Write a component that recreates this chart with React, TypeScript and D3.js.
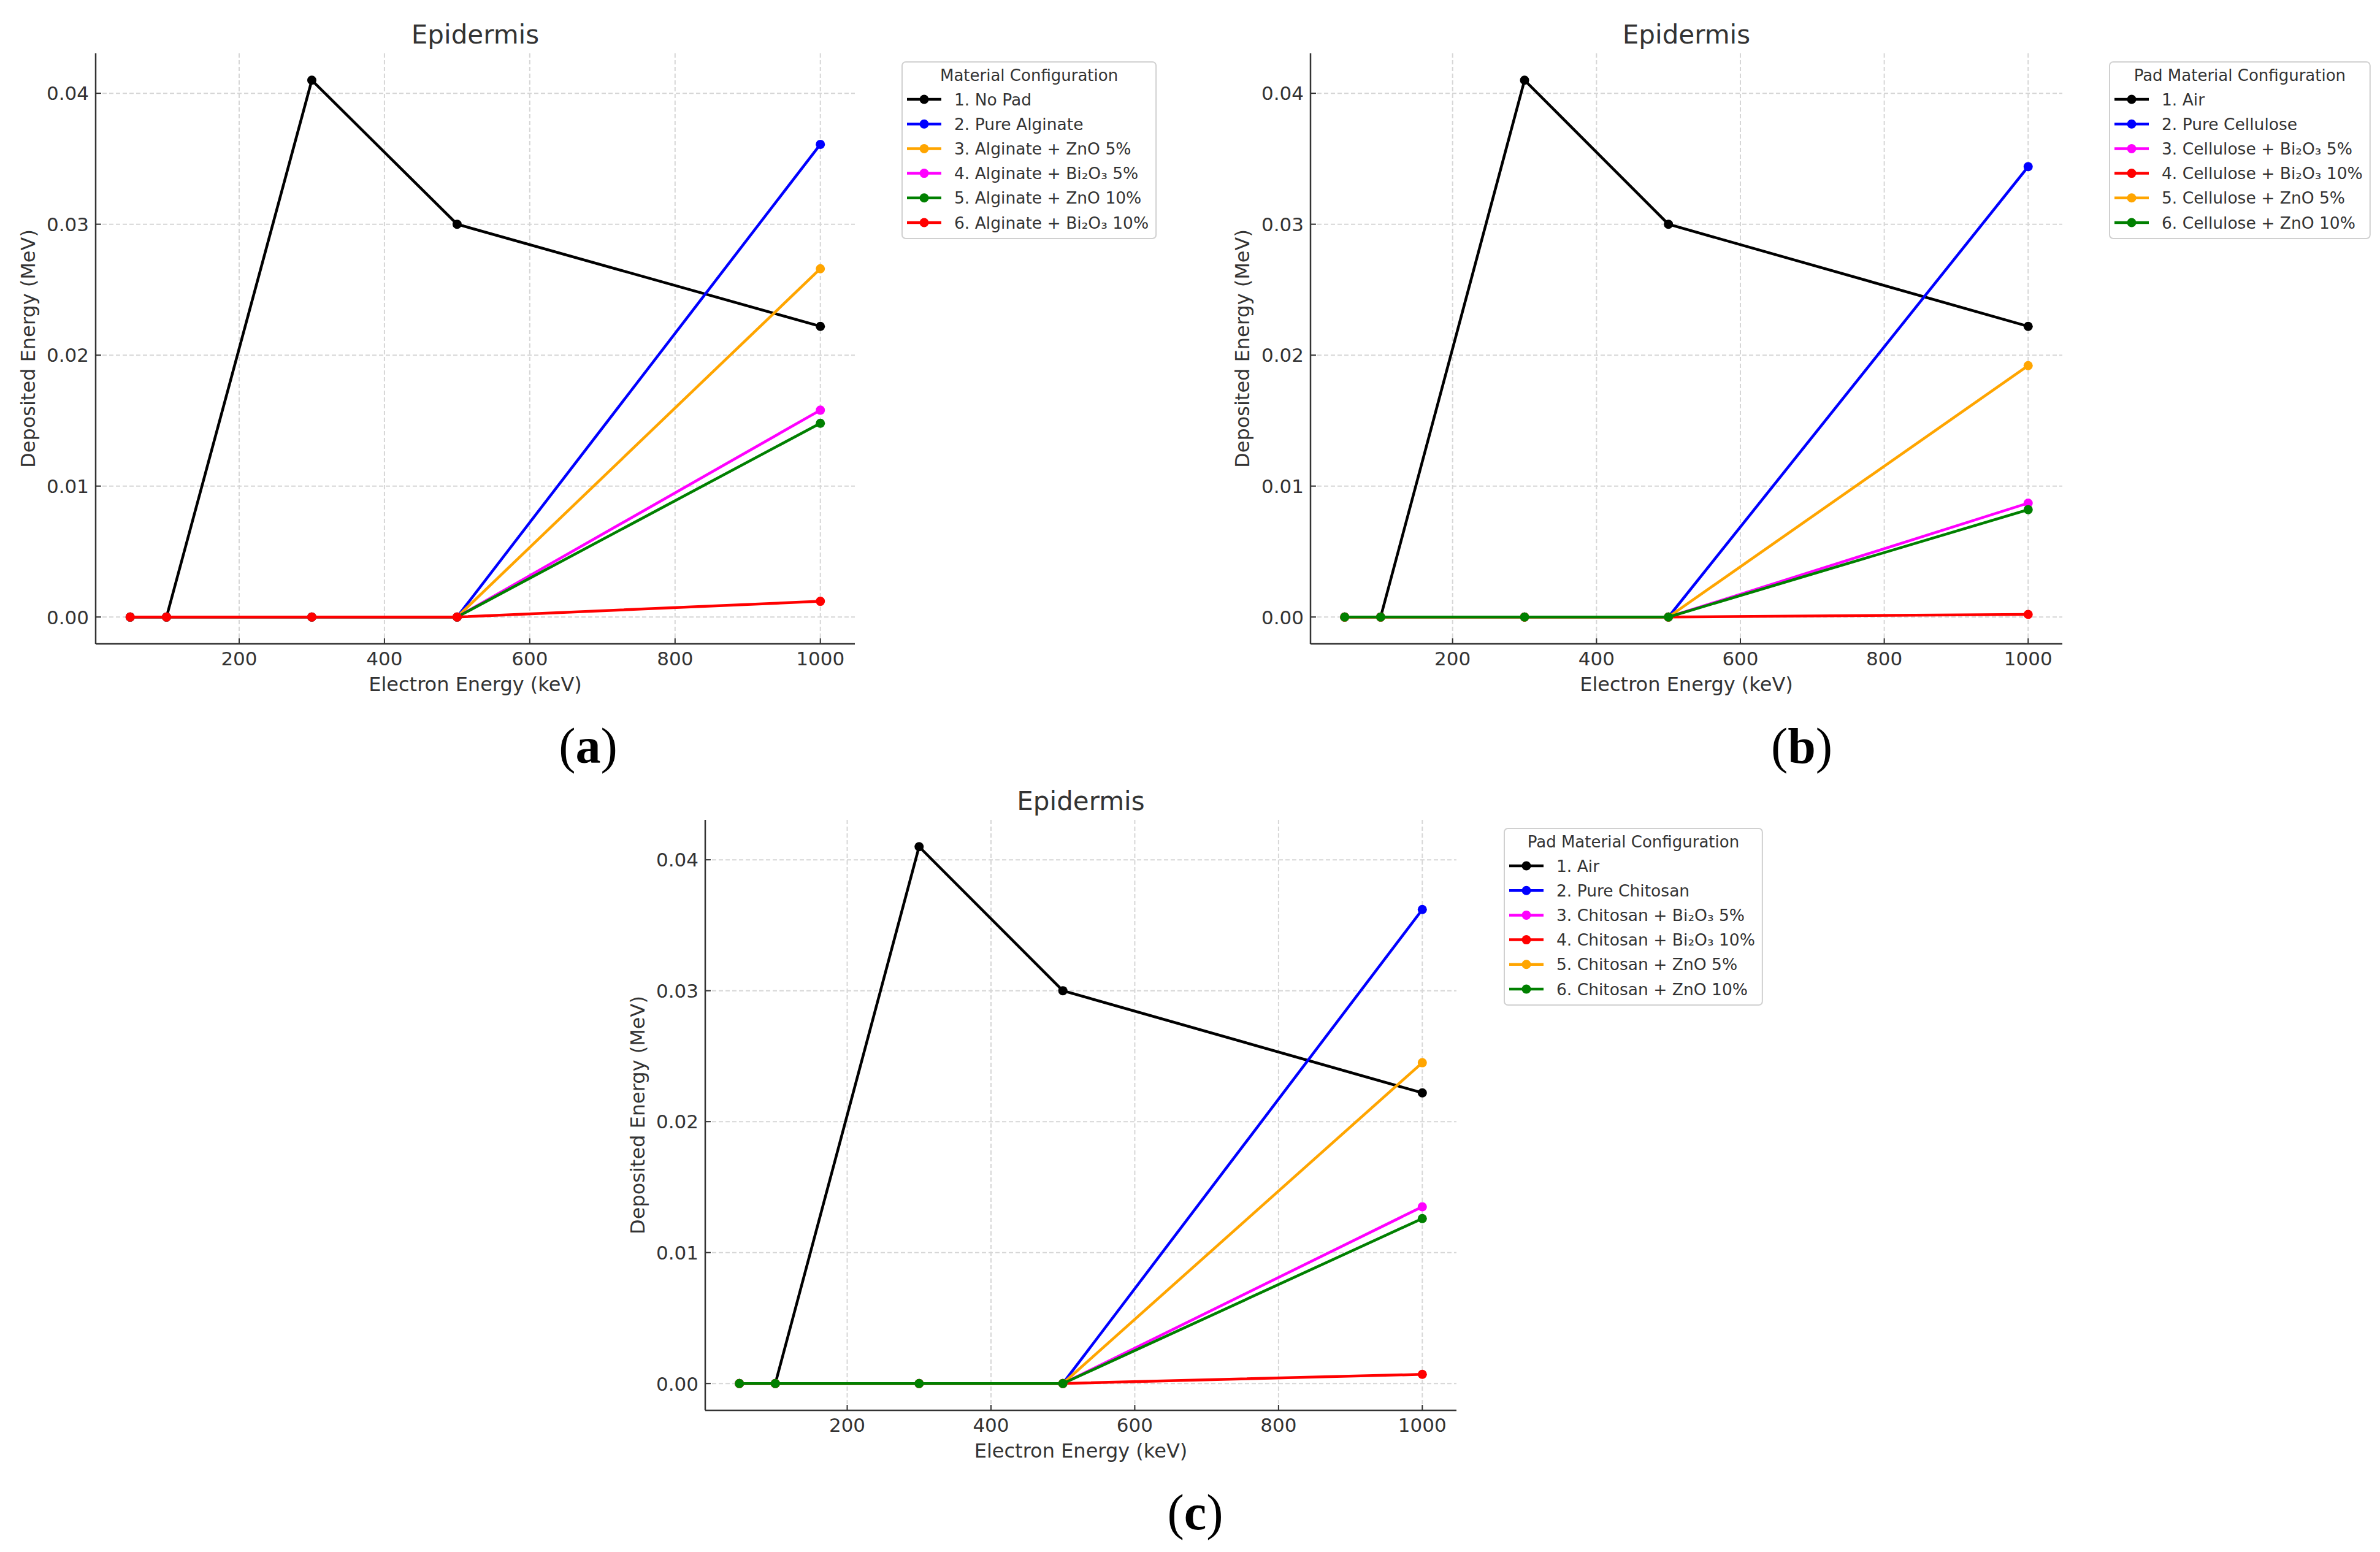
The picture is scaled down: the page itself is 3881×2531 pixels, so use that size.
import React, { useEffect, useRef } from 'react';
import * as d3 from 'd3';

const W = 3881;
const H = 2531;

// ---------- data ----------
const energies = [50, 100, 300, 500, 1000];
const xTicks = [200, 400, 600, 800, 1000];
const yTicks = [0, 0.01, 0.02, 0.03, 0.04];
const chartTitle = 'Epidermis';
const xAxisLabel = 'Electron Energy (keV)';
const yAxisLabel = 'Deposited Energy (MeV)';

// Panel (a): alginate
const alginateLabels = [
  '1. No Pad',
  '2. Pure Alginate',
  '3. Alginate + ZnO 5%',
  '4. Alginate + Bi₂O₃ 5%',
  '5. Alginate + ZnO 10%',
  '6. Alginate + Bi₂O₃ 10%',
];
const alginateColors = ['#000000', '#0000ff', '#ffa500', '#ff00ff', '#008000', '#ff0000'];
const alginateNoPad = [0, 0, 0.041, 0.030, 0.0222];
const alginatePure = [0, 0, 0, 0, 0.0361];
const alginateZnO5 = [0, 0, 0, 0, 0.0266];
const alginateBi5 = [0, 0, 0, 0, 0.0158];
const alginateZnO10 = [0, 0, 0, 0, 0.0148];
const alginateBi10 = [0, 0, 0, 0, 0.0012];

// Panel (b): cellulose
const celluloseLabels = [
  '1. Air',
  '2. Pure Cellulose',
  '3. Cellulose + Bi₂O₃ 5%',
  '4. Cellulose + Bi₂O₃ 10%',
  '5. Cellulose + ZnO 5%',
  '6. Cellulose + ZnO 10%',
];
const celluloseColors = ['#000000', '#0000ff', '#ff00ff', '#ff0000', '#ffa500', '#008000'];
const celluloseAir = [0, 0, 0.041, 0.030, 0.0222];
const cellulosePure = [0, 0, 0, 0, 0.0344];
const celluloseBi5 = [0, 0, 0, 0, 0.0087];
const celluloseBi10 = [0, 0, 0, 0, 0.0002];
const celluloseZnO5 = [0, 0, 0, 0, 0.0192];
const celluloseZnO10 = [0, 0, 0, 0, 0.0082];

// Panel (c): chitosan
const chitosanLabels = [
  '1. Air',
  '2. Pure Chitosan',
  '3. Chitosan + Bi₂O₃ 5%',
  '4. Chitosan + Bi₂O₃ 10%',
  '5. Chitosan + ZnO 5%',
  '6. Chitosan + ZnO 10%',
];
const chitosanColors = ['#000000', '#0000ff', '#ff00ff', '#ff0000', '#ffa500', '#008000'];
const chitosanAir = [0, 0, 0.041, 0.030, 0.0222];
const chitosanPure = [0, 0, 0, 0, 0.0362];
const chitosanBi5 = [0, 0, 0, 0, 0.0135];
const chitosanBi10 = [0, 0, 0, 0, 0.0007];
const chitosanZnO5 = [0, 0, 0, 0, 0.0245];
const chitosanZnO10 = [0, 0, 0, 0, 0.0126];

const panels = [
  {
    tag: 'a', left: 156, right: 1394, dy: 0, legendX: 1471, yLabX: 57, tagX: 959,
    legendTitle: 'Material Configuration',
    labels: alginateLabels, colors: alginateColors,
    series: [alginateNoPad, alginatePure, alginateZnO5, alginateBi5, alginateZnO10, alginateBi10],
  },
  {
    tag: 'b', left: 2137, right: 3363, dy: 0, legendX: 3440, yLabX: 2037, tagX: 2938,
    legendTitle: 'Pad Material Configuration',
    labels: celluloseLabels, colors: celluloseColors,
    series: [celluloseAir, cellulosePure, celluloseBi5, celluloseBi10, celluloseZnO5, celluloseZnO10],
  },
  {
    tag: 'c', left: 1150, right: 2375, dy: 1250, legendX: 2453, yLabX: 1051, tagX: 1949,
    legendTitle: 'Pad Material Configuration',
    labels: chitosanLabels, colors: chitosanColors,
    series: [chitosanAir, chitosanPure, chitosanBi5, chitosanBi10, chitosanZnO5, chitosanZnO10],
  },
];

// ---------- layout ----------
const PT = 87, PB = 1050;
const FONT = '"DejaVu Sans", sans-serif';
const TXT = '#333333';

export default function App() {
  const ref = useRef<SVGSVGElement | null>(null);

  useEffect(() => {
    const svg = d3.select(ref.current);
    svg.selectAll('*').remove();
    svg.append('rect').attr('width', W).attr('height', H).attr('fill', '#ffffff');

    const y = d3.scaleLinear().domain([-0.00205, 0.04305]).range([PB, PT]);

    panels.forEach((p) => {
      const PL = p.left;
      const PR = p.right;
      const x = d3.scaleLinear().domain([2.5, 1047.5]).range([PL, PR]);
      const g = svg.append('g').attr('transform', `translate(0,${p.dy})`);

      // grid
      g.selectAll(null).data(xTicks).enter().append('line')
        .attr('x1', (d) => x(d)).attr('x2', (d) => x(d))
        .attr('y1', PT).attr('y2', PB)
        .attr('stroke', '#d6d6d6').attr('stroke-width', 2).attr('stroke-dasharray', '7,4');
      g.selectAll(null).data(yTicks).enter().append('line')
        .attr('x1', PL).attr('x2', PR)
        .attr('y1', (d) => y(d)).attr('y2', (d) => y(d))
        .attr('stroke', '#d6d6d6').attr('stroke-width', 2).attr('stroke-dasharray', '7,4');

      // series
      const line = d3.line<number>()
        .x((_, i) => x(energies[i]))
        .y((d) => y(d));
      p.series.forEach((vals, si) => {
        const col = p.colors[si];
        g.append('path').datum(vals).attr('d', line)
          .attr('fill', 'none').attr('stroke', col).attr('stroke-width', 4.5)
          .attr('stroke-linejoin', 'round');
        g.selectAll(null).data(vals).enter().append('circle')
          .attr('cx', (_, i) => x(energies[i])).attr('cy', (d) => y(d))
          .attr('r', 7.5).attr('fill', col);
      });

      // spines
      g.append('line').attr('x1', PL).attr('x2', PL).attr('y1', PT).attr('y2', PB)
        .attr('stroke', TXT).attr('stroke-width', 2.5);
      g.append('line').attr('x1', PL).attr('x2', PR).attr('y1', PB).attr('y2', PB)
        .attr('stroke', TXT).attr('stroke-width', 2.5);

      // ticks (inward)
      g.selectAll(null).data(xTicks).enter().append('line')
        .attr('x1', (d) => x(d)).attr('x2', (d) => x(d))
        .attr('y1', PB).attr('y2', PB - 9)
        .attr('stroke', TXT).attr('stroke-width', 2);
      g.selectAll(null).data(yTicks).enter().append('line')
        .attr('x1', PL).attr('x2', PL + 9)
        .attr('y1', (d) => y(d)).attr('y2', (d) => y(d))
        .attr('stroke', TXT).attr('stroke-width', 2);

      // tick labels
      g.selectAll(null).data(xTicks).enter().append('text')
        .attr('x', (d) => x(d)).attr('y', 1085)
        .attr('text-anchor', 'middle').attr('font-family', FONT).attr('font-size', 31)
        .attr('fill', TXT).text((d) => String(d));
      g.selectAll(null).data(yTicks).enter().append('text')
        .attr('x', PL - 11).attr('y', (d) => y(d) + 11.3)
        .attr('text-anchor', 'end').attr('font-family', FONT).attr('font-size', 31)
        .attr('fill', TXT).text((d) => d3.format('.2f')(d));

      // axis labels & title
      g.append('text').attr('x', (PL + PR) / 2).attr('y', 1127)
        .attr('text-anchor', 'middle').attr('font-family', FONT).attr('font-size', 32)
        .attr('fill', TXT).text(xAxisLabel);
      g.append('text').attr('transform', `translate(${p.yLabX},${(PT + PB) / 2}) rotate(-90)`)
        .attr('text-anchor', 'middle').attr('font-family', FONT).attr('font-size', 32)
        .attr('fill', TXT).text(yAxisLabel);
      g.append('text').attr('x', (PL + PR) / 2).attr('y', 71)
        .attr('text-anchor', 'middle').attr('font-family', FONT).attr('font-size', 42)
        .attr('fill', TXT).text(chartTitle);

      // legend
      const lx = p.legendX;
      const ly = 101;
      const lg = g.append('g');
      const rect = lg.append('rect').attr('x', lx).attr('y', ly)
        .attr('rx', 6).attr('ry', 6)
        .attr('fill', '#ffffff').attr('fill-opacity', 0.8)
        .attr('stroke', '#d0d0d0').attr('stroke-width', 2);
      let maxW = 0;
      p.labels.forEach((lab, i) => {
        const cy = 162 + i * 40.2;
        lg.append('line').attr('x1', lx + 8).attr('x2', lx + 64).attr('y1', cy).attr('y2', cy)
          .attr('stroke', p.colors[i]).attr('stroke-width', 4.5);
        lg.append('circle').attr('cx', lx + 36).attr('cy', cy).attr('r', 7.5).attr('fill', p.colors[i]);
        const t = lg.append('text').attr('x', lx + 85).attr('y', cy + 9.5)
          .attr('font-family', FONT).attr('font-size', 26.5).attr('fill', TXT).text(lab);
        const node = t.node() as SVGTextElement;
        maxW = Math.max(maxW, node.getComputedTextLength());
      });
      const tt = lg.append('text').attr('y', 131.7)
        .attr('text-anchor', 'middle').attr('font-family', FONT).attr('font-size', 26)
        .attr('fill', TXT).text(p.legendTitle);
      const titleW = (tt.node() as SVGTextElement).getComputedTextLength();
      const boxW = Math.max(85 + maxW + 12, titleW + 24);
      rect.attr('width', boxW).attr('height', 288);
      tt.attr('x', lx + boxW / 2);

      // panel tag
      const tag = svg.append('text').attr('x', p.tagX).attr('y', 1244 + p.dy)
        .attr('text-anchor', 'middle').attr('font-family', '"Liberation Serif", serif')
        .attr('font-size', 82).attr('fill', '#000000');
      tag.append('tspan').text('(');
      tag.append('tspan').attr('font-weight', 'bold').text(p.tag);
      tag.append('tspan').text(')');
    });
  }, []);

  return (
    <svg
      ref={ref}
      width={W}
      height={H}
      style={{ position: 'absolute', left: 0, top: 0, display: 'block' }}
    />
  );
}
